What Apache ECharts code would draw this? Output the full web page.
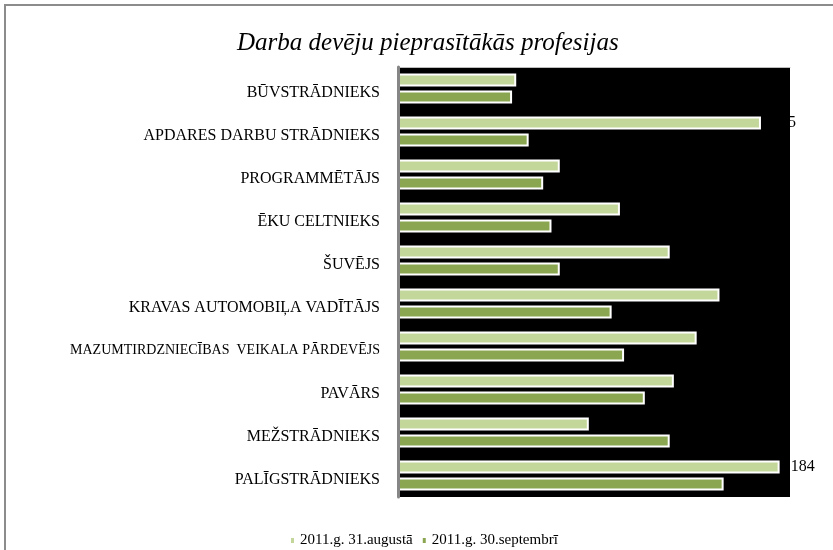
<!DOCTYPE html>
<html>
<head>
<meta charset="utf-8">
<script src="https://cdn.jsdelivr.net/npm/echarts@6/dist/echarts.min.js"></script>
<style>
  html, body { margin: 0; padding: 0; background: #fff; }
  #cht { width: 833px; height: 550px; }
</style>
</head>
<body>
<div id="cht"></div>
<script>
var categories = ['BŪVSTRĀDNIEKS', 'APDARES DARBU STRĀDNIEKS', 'PROGRAMMĒTĀJS', 'ĒKU CELTNIEKS',
    'ŠUVĒJS', 'KRAVAS AUTOMOBIĻA VADĪTĀJS', 'MAZUMTIRDZNIECĪBAS  VEIKALA PĀRDEVĒJS',
    'PAVĀRS', 'MEŽSTRĀDNIEKS', 'PALĪGSTRĀDNIEKS'];
var august = [57, 175, 78, 107, 131, 155, 144, 133, 92, 184];
var september = [55, 63, 70, 74, 78, 103, 109, 119, 131, 157];
var labeled = [1, 9];   // only these bars carry a value label
var smallLabel = 6;     // long label that is drawn smaller

var serif = '"Liberation Serif", "DejaVu Serif", serif';

function barItem(color) {
    return {
        color: color,
        borderColor: '#fff',
        borderWidth: 2
    };
}

var config = {
    backgroundColor: '#fff',
    title: {
        text: 'Darba devēju pieprasītākās profesijas',
        left: 232,
        top: 26,
        textStyle: { fontFamily: serif, fontStyle: 'italic', fontWeight: 'normal', fontSize: 25, color: '#000' }
    },
    legend: {
        data: ['2011.g. 31.augustā', '2011.g. 30.septembrī'],
        left: 284,
        top: 528,
        icon: 'rect',
        itemWidth: 5,
        itemHeight: 7,
        itemGap: 8,
        textStyle: { fontFamily: serif, fontSize: 15, color: '#000' }
    },
    grid: {
        left: 398,
        right: 43,
        top: 67,
        bottom: 53,
        show: true,
        backgroundColor: '#000',
        borderWidth: 0
    },
    xAxis: {
        type: 'value',
        min: 0,
        max: 189,
        position: 'top',
        axisLine: { show: true, lineStyle: { color: '#bdbdbd', width: 1 } },
        axisTick: { show: false },
        axisLabel: { show: false },
        splitLine: { show: false }
    },
    yAxis: {
        type: 'category',
        data: categories,
        inverse: true,
        z: 5,
        axisLine: { show: true, lineStyle: { color: '#868686', width: 3 } },
        axisTick: { show: false },
        axisLabel: {
            margin: 18,
            padding: [8, 0, 0, 0],
            fontFamily: serif,
            fontSize: 16,
            color: '#000',
            formatter: function (v, i) {
                return i === smallLabel ? '{s|' + v + '}' : v;
            },
            rich: {
                s: { fontFamily: serif, fontSize: 14, color: '#000' }
            }
        }
    },
    series: [
        {
            name: '2011.g. 31.augustā',
            type: 'bar',
            barWidth: 13,
            barGap: '31%',
            itemStyle: barItem('#c4d79b'),
            data: august.map(function (v, i) {
                return {
                    value: v,
                    label: {
                        show: labeled.indexOf(i) >= 0,
                        position: 'right',
                        distance: 11,
                        fontFamily: serif,
                        fontSize: 16,
                        color: '#000'
                    }
                };
            })
        },
        {
            name: '2011.g. 30.septembrī',
            type: 'bar',
            barWidth: 13,
            itemStyle: barItem('#8ba651'),
            data: september
        }
    ],
    graphic: [{
        type: 'rect',
        shape: { x: 5, y: 5, width: 840, height: 560 },
        style: { fill: 'none', stroke: '#8c8c8c', lineWidth: 2 },
        silent: true
    }]
};

window.onload = function () {
    var myChart = echarts.init(document.getElementById('cht'));
    myChart.setOption(config);
};
</script>
</body>
</html>
